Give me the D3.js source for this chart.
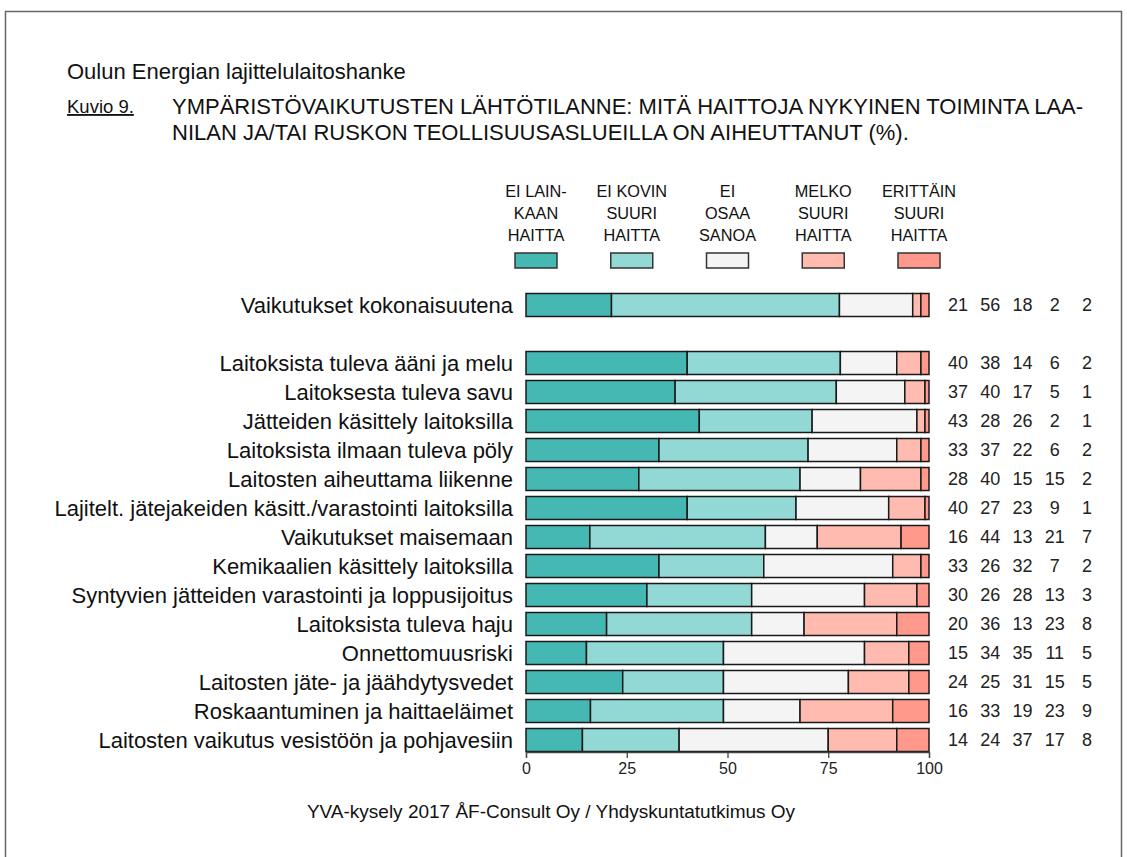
<!DOCTYPE html>
<html>
<head>
<meta charset="utf-8">
<script src="https://cdn.jsdelivr.net/npm/d3@7"></script>
<style>
  body { margin: 0; background: #fff; }
  svg { display: block; font-family: "Liberation Sans", Arial, sans-serif; }
</style>
</head>
<body>
<svg id="chart"></svg>
<script>
var width = 1127,
    height = 857;

// Answer categories (legend), one line per text row
var seriesKeys = ['lainkaan', 'kovin', 'eos', 'melko', 'erittain'];
var seriesLabels = [
  ['EI LAIN-', 'KAAN', 'HAITTA'],
  ['EI KOVIN', 'SUURI', 'HAITTA'],
  ['EI', 'OSAA', 'SANOA'],
  ['MELKO', 'SUURI', 'HAITTA'],
  ['ERITTÄIN', 'SUURI', 'HAITTA']
];
var seriesColors = ['#45b8b4', '#92d8d4', '#f4f4f4', '#ffbbb0', '#ff998c'];

// Rows (the empty one is the gap under the total row)
var categories = [
  'Vaikutukset kokonaisuutena',
  '',
  'Laitoksista tuleva ääni ja melu',
  'Laitoksesta tuleva savu',
  'Jätteiden käsittely laitoksilla',
  'Laitoksista ilmaan tuleva pöly',
  'Laitosten aiheuttama liikenne',
  'Lajitelt. jätejakeiden käsitt./varastointi laitoksilla',
  'Vaikutukset maisemaan',
  'Kemikaalien käsittely laitoksilla',
  'Syntyvien jätteiden varastointi ja loppusijoitus',
  'Laitoksista tuleva haju',
  'Onnettomuusriski',
  'Laitosten jäte- ja jäähdytysvedet',
  'Roskaantuminen ja haittaeläimet',
  'Laitosten vaikutus vesistöön ja pohjavesiin'
];

// Percentages per series, same order as categories (null = gap row)
var lainkaan = [21, null, 40, 37, 43, 33, 28, 40, 16, 33, 30, 20, 15, 24, 16, 14];
var kovin    = [56, null, 38, 40, 28, 37, 40, 27, 44, 26, 26, 36, 34, 25, 33, 24];
var eos      = [18, null, 14, 17, 26, 22, 15, 23, 13, 32, 28, 13, 35, 31, 19, 37];
var melko    = [ 2, null,  6,  5,  2,  6, 15,  9, 21,  7, 13, 23, 11, 15, 23, 17];
var erittain = [ 2, null,  2,  1,  1,  2,  2,  1,  7,  2,  3,  8,  5,  5,  9,  8];

var tickValues = [0, 25, 50, 75, 100];

var table = categories.map(function(c, i) {
  return {
    name: c,
    lainkaan: lainkaan[i], kovin: kovin[i], eos: eos[i],
    melko: melko[i], erittain: erittain[i]
  };
});
var rows = table.filter(function(d) { return d.name !== ''; });

var svg = d3.select('#chart')
  .attr('width', width)
  .attr('height', height);

svg.append('rect')
  .attr('width', width)
  .attr('height', height)
  .attr('fill', '#fff');

// page frame
svg.append('path')
  .attr('d', 'M5.5,870V11.5H1121.5V870')
  .attr('fill', 'none')
  .attr('stroke', '#666')
  .attr('stroke-width', 1.5);

// Titles
svg.append('text')
  .attr('x', 67).attr('y', 79)
  .style('font-size', '22px')
  .attr('fill', '#111')
  .text('Oulun Energian lajittelulaitoshanke');

svg.append('text')
  .attr('x', 67).attr('y', 113)
  .style('font-size', '18.5px')
  .style('text-decoration', 'underline')
  .attr('fill', '#111')
  .text('Kuvio 9.');

svg.append('text')
  .attr('x', 172).attr('y', 114)
  .style('font-size', '22px')
  .attr('fill', '#111')
  .text('YMPÄRISTÖVAIKUTUSTEN LÄHTÖTILANNE: MITÄ HAITTOJA NYKYINEN TOIMINTA LAA-');

svg.append('text')
  .attr('x', 172).attr('y', 140)
  .style('font-size', '22px')
  .attr('fill', '#111')
  .text('NILAN JA/TAI RUSKON TEOLLISUUSASLUEILLA ON AIHEUTTANUT (%).');

// Scales
var x = d3.scaleLinear()
  .domain([0, 1])
  .range([526, 929]);

var y = d3.scalePoint()
  .domain(categories)
  .range([305, 740]);

var barH = 23;

var color = d3.scaleOrdinal()
  .domain(seriesKeys)
  .range(seriesColors);

// normalise every row to 100 %
var stack = d3.stack()
  .keys(seriesKeys)
  .offset(d3.stackOffsetExpand);

var series = stack(rows);

// Legend
var legendX = d3.scalePoint()
  .domain(seriesKeys)
  .range([536, 919]);

var legend = svg.append('g')
  .attr('class', 'legend');

seriesKeys.forEach(function(k, i) {
  var g = legend.append('g')
    .attr('transform', 'translate(' + legendX(k) + ',0)');
  g.append('text')
    .attr('text-anchor', 'middle')
    .style('font-size', '16.3px')
    .attr('fill', '#111')
    .selectAll('tspan')
    .data(seriesLabels[i])
    .join('tspan')
    .attr('x', 0)
    .attr('y', function(d, j) { return 197 + j * 22; })
    .text(function(d) { return d; });
  g.append('rect')
    .attr('x', -21).attr('y', 253)
    .attr('width', 42).attr('height', 15)
    .attr('fill', color(k))
    .attr('stroke', '#333')
    .attr('stroke-width', 1.5);
});

// Bars
var barLayer = svg.append('g')
  .classed('bar-layer', true);

barLayer.selectAll('g')
  .data(series)
  .join('g')
  .attr('fill', function(d) { return color(d.key); })
  .selectAll('rect')
  .data(function(d) { return d; })
  .join('rect')
  .attr('x', function(d) { return x(d[0]); })
  .attr('y', function(d) { return y(d.data.name) - barH / 2; })
  .attr('width', function(d) { return x(d[1]) - x(d[0]); })
  .attr('height', barH)
  .attr('stroke', '#1a1a1a')
  .attr('stroke-width', 1.5);

// Row labels
svg.append('g')
  .selectAll('text')
  .data(rows)
  .join('text')
  .attr('x', 513)
  .attr('y', function(d) { return y(d.name); })
  .attr('dy', '0.35em')
  .attr('text-anchor', 'end')
  .style('font-size', '22px')
  .attr('fill', '#111')
  .text(function(d) { return d.name; });

// Value columns
var colX = d3.scalePoint()
  .domain(seriesKeys)
  .range([958, 1087]);

var valueRows = svg.append('g')
  .selectAll('g')
  .data(rows)
  .join('g')
  .attr('transform', function(d) { return 'translate(0,' + y(d.name) + ')'; });

valueRows.selectAll('text')
  .data(function(d) { return seriesKeys.map(function(k) { return { key: k, v: d[k] }; }); })
  .join('text')
  .attr('x', function(d) { return colX(d.key); })
  .attr('dy', '0.35em')
  .attr('text-anchor', 'middle')
  .style('font-size', '18px')
  .attr('fill', '#222')
  .text(function(d) { return d.v; });

// Axis
var axis = d3.axisBottom(x)
  .tickValues(tickValues.map(function(t) { return t / 100; }))
  .tickFormat(function(d) { return Math.round(d * 100); })
  .tickSize(6)
  .tickSizeOuter(6);

var axisG = svg.append('g')
  .attr('transform', 'translate(0,752)')
  .call(axis);

axisG.select('.domain').attr('stroke', '#444').attr('stroke-width', 1.3);
axisG.selectAll('.tick line').attr('stroke', '#444').attr('stroke-width', 1.3);
axisG.selectAll('.tick text')
  .attr('y', 11)
  .style('font-size', '16px')
  .style('font-family', '"Liberation Sans", Arial, sans-serif')
  .attr('fill', '#222');

// Source
svg.append('text')
  .attr('x', 551).attr('y', 818)
  .attr('text-anchor', 'middle')
  .style('font-size', '19px')
  .attr('fill', '#111')
  .text('YVA-kysely 2017 ÅF-Consult Oy / Yhdyskuntatutkimus Oy');
</script>
</body>
</html>
